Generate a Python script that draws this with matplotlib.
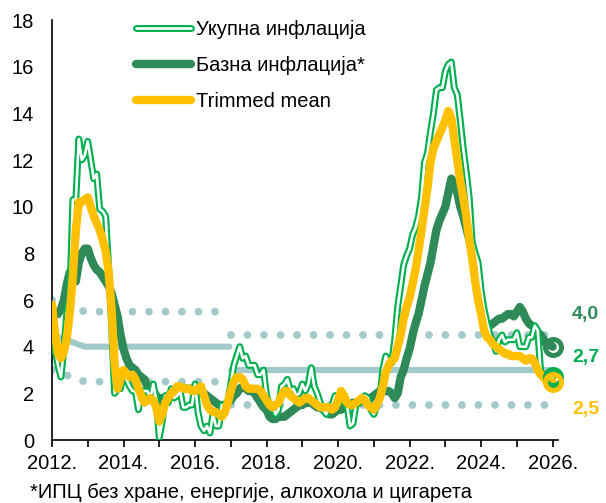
import numpy as np
import matplotlib
matplotlib.use("Agg")
import matplotlib.pyplot as plt
import matplotlib.patheffects as pe

plt.rcParams['font.family'] = ['Liberation Sans', 'DejaVu Sans']

# ---------------- data (monthly, Jan 2012 - Jan 2026) ----------------
start_year = 2012
total = [5.6, 3.9, 3.2, 2.7, 3.9, 5.5, 6.1, 10.3, 10.3, 12.9, 12.0, 12.2,
         12.8, 12.0, 11.2, 11.4, 9.9, 9.8, 9.6, 7.4, 4.9, 2.0, 2.2, 2.2,
         3.0, 2.6, 2.3, 2.1, 2.1, 1.3, 2.1, 2.1, 2.1, 1.8, 2.4, 1.7,
         0.1, 0.8, 1.9, 1.6, 2.2, 1.8, 1.9, 2.1, 1.4, 1.4, 1.5, 1.5,
         2.4, 1.2, 0.6, 0.4, 0.6, 0.3, 1.1, 0.6, 0.6, 1.5, 1.5, 1.6,
         2.4, 3.2, 3.6, 4.0, 3.5, 3.6, 3.2, 3.2, 3.2, 2.8, 2.8, 3.0,
         1.9, 1.5, 1.5, 1.1, 1.3, 2.3, 2.4, 2.6, 2.1, 2.2, 1.9, 2.0,
         2.4, 2.1, 2.4, 3.1, 2.3, 2.0, 1.6, 1.3, 1.1, 1.4, 1.5, 1.9,
         1.9, 1.8, 1.6, 1.5, 0.6, 0.7, 1.5, 1.6, 1.8, 1.9, 1.8, 1.3,
         1.1, 1.5, 1.8, 3.0, 3.6, 3.3, 3.3, 4.3, 5.7, 6.6, 7.5, 7.9,
         8.2, 8.8, 9.1, 9.6, 10.4, 11.9, 12.3, 13.2, 14.0, 15.0, 15.1, 15.1,
         15.8, 16.1, 16.2, 15.1, 14.8, 13.7, 12.5, 11.5, 10.4, 8.5, 8.0, 7.6,
         6.4, 5.6, 5.0, 4.5, 4.2, 3.8, 4.3, 4.5, 4.2, 4.3, 4.3, 4.3,
         4.6, 4.0, 4.0, 4.0, 4.4, 4.4, 4.9, 4.7, 2.9, 2.8, 2.8, 2.8,
         2.7]

core = [5.6, 5.4, 5.4, 5.6, 6.0, 6.7, 7.2, 6.9, 6.8, 7.6, 8.0, 8.2,
        8.2, 7.8, 7.5, 7.3, 7.2, 7.0, 6.8, 6.6, 6.3, 5.8, 5.3, 4.5,
        3.9, 3.5, 3.2, 3.1, 3.0, 2.8, 2.7, 2.6, 2.3, 2.2, 2.1, 1.9,
        1.6, 1.8, 1.7, 1.9, 2.0, 2.0, 2.0, 2.1, 2.2, 2.2, 2.2, 2.2,
        2.1, 2.0, 2.0, 2.0, 1.9, 1.8, 1.7, 1.6, 1.5, 1.5, 1.5, 1.6,
        1.7, 1.9, 2.0, 2.2, 2.3, 2.2, 2.1, 2.1, 2.0, 1.8, 1.6, 1.4,
        1.3, 1.0, 0.9, 0.9, 1.0, 1.0, 1.0, 1.1, 1.2, 1.3, 1.4, 1.5,
        1.5, 1.6, 1.6, 1.6, 1.5, 1.4, 1.4, 1.3, 1.2, 1.1, 1.1, 1.2,
        1.3, 1.3, 1.4, 1.5, 1.5, 1.6, 1.6, 1.6, 1.7, 1.7, 1.8, 1.8,
        1.9, 2.0, 2.1, 2.1, 2.1, 2.1, 2.0, 1.8, 2.0, 2.7, 3.0, 3.5,
        3.9, 4.5, 5.0, 5.4, 6.0, 6.6, 7.1, 7.6, 8.3, 9.0, 9.4, 9.7,
        10.0, 10.6, 11.2, 11.0, 10.6, 10.0, 9.6, 9.1, 8.6, 8.0, 7.6, 7.0,
        6.0, 5.2, 5.0, 4.9, 5.0, 5.1, 5.2, 5.2, 5.3, 5.4, 5.4, 5.3,
        5.5, 5.7, 5.5, 5.2, 5.0, 4.9, 4.8, 4.6, 4.5, 4.3, 4.1, 4.1,
        4.0]

trimmed = [5.8, 4.6, 3.7, 3.5, 3.8, 4.4, 5.5, 7.0, 9.0, 10.2, 10.2, 10.3,
           10.4, 10.0, 9.6, 9.3, 9.0, 8.6, 8.1, 7.2, 5.6, 3.3, 2.2, 2.6,
           3.0, 2.8, 2.7, 2.8, 2.6, 2.2, 1.9, 1.6, 1.7, 1.8, 1.7, 1.4,
           0.8, 1.1, 1.6, 1.8, 2.0, 2.1, 2.3, 2.3, 2.2, 2.2, 2.2, 2.1,
           2.1, 2.2, 2.3, 1.9, 1.5, 1.3, 1.2, 1.2, 1.1, 1.0, 1.2, 1.6,
           2.1, 2.5, 2.7, 2.7, 2.6, 2.3, 2.2, 2.2, 2.2, 2.2, 2.1, 1.9,
           1.7, 1.5, 1.4, 1.5, 1.6, 1.9, 2.1, 2.1, 1.9, 1.8, 1.7, 1.6,
           1.7, 1.8, 1.8, 1.7, 1.6, 1.5, 1.4, 1.4, 1.4, 1.4, 1.3, 1.4,
           1.7, 2.1, 1.9, 1.6, 1.5, 1.5, 1.6, 1.7, 1.8, 1.7, 1.5, 1.4,
           1.3, 1.5, 1.8, 2.3, 2.9, 3.2, 3.4, 3.5, 4.0, 4.5, 5.2, 5.7,
           6.1, 6.7, 7.3, 8.1, 9.0, 9.9, 10.8, 11.9, 12.5, 12.8, 13.1, 13.4,
           13.7, 14.1, 13.8, 12.9, 12.0, 11.1, 10.4, 9.6, 8.6, 7.8, 6.8, 6.0,
           5.4, 4.7, 4.4, 4.3, 4.1, 4.0, 3.9, 3.8, 3.7, 3.7, 3.6, 3.6,
           3.6, 3.6, 3.5, 3.4, 3.5, 3.5, 3.3, 3.0, 2.8, 2.7, 2.5, 2.5,
           2.5]

# inflation target paths (central value) and tolerance band
target1_dates = [2012.0, 2012.92, 2016.96]
target1_vals = [4.5, 4.0, 4.0]
target2_dates = [2017.0, 2025.92]
target2_vals = [3.0, 3.0]
tolerance = 1.5

labels = ['Укупна инфлација', 'Базна инфлација*', 'Trimmed mean']
end_labels = ['4,0', '2,7', '2,5']
year_ticks = list(range(2012, 2027))
footnote = '*ИПЦ без хране, енергије, алкохола и цигарета'

# ---------------- style ----------------
GREEN = '#00B050'
DARK = '#2E8B57'
YELLOW = '#FFC000'
TEAL = '#A3CACA'

dates = start_year + np.arange(len(total)) / 12.0

fig = plt.figure(figsize=(6.06, 5.03), dpi=100)
ax = fig.add_axes([0.0858, 0.1252, 0.835, 0.835])

# targets
dot_style = dict(color=TEAL, lw=5.6, linestyle=(0, (0.001, 2.12)),
                 dash_capstyle='round', zorder=1)
for d, v in ((target1_dates, target1_vals), (target2_dates, target2_vals)):
    v = np.array(v)
    ax.plot(d, v, color=TEAL, lw=4.4, solid_capstyle='round', zorder=1)
    ax.plot(d, v + tolerance, **dot_style)
    ax.plot(d, v - tolerance, **dot_style)

# series
l_core, = ax.plot(dates, core, color=DARK, lw=6.0, solid_capstyle='round',
                  solid_joinstyle='round', zorder=3, label=labels[1])
l_tot, = ax.plot(dates, total, color='white', lw=1.9, solid_capstyle='round',
                 solid_joinstyle='round', zorder=4, label=labels[0],
                 path_effects=[pe.Stroke(linewidth=5.0, foreground=GREEN),
                               pe.Normal()])
l_trm, = ax.plot(dates, trimmed, color=YELLOW, lw=6.0, solid_capstyle='round',
                 solid_joinstyle='round', zorder=5, label=labels[2])

# end markers and labels
ends = [(core, DARK, end_labels[0], 23), (total, GREEN, end_labels[1], 14),
        (trimmed, YELLOW, end_labels[2], -20)]
zo = {DARK: 6, GREEN: 6, YELLOW: 7}
for series, col, lab, dy in ends:
    ax.plot(dates[-1], series[-1], 'o', ms=11.5, mfc='none', mec=col,
            mew=3.6, zorder=zo[col], clip_on=False)
    ax.annotate(lab, (dates[-1], series[-1]), xytext=(14, dy),
                textcoords='offset points', ha='left', va='center',
                fontsize=14, fontweight='bold', color=col,
                annotation_clip=False)

ax.set_xlim(2012, 2026.15)
ax.set_ylim(0, 18)
ax.set_yticks(range(0, 19, 2))
ax.set_xticks(year_ticks)
ax.set_xticklabels([f'{y}.' if (y - 2012) % 2 == 0 else '' for y in year_ticks])
ax.tick_params(axis='y', length=0, pad=13, labelsize=14.5)
ax.tick_params(axis='x', length=5, width=1.2, pad=5, labelsize=14.5)
for s in ('top', 'right'):
    ax.spines[s].set_visible(False)
for s in ('left', 'bottom'):
    ax.spines[s].set_linewidth(1.2)

leg = ax.legend(handles=[l_tot, l_core, l_trm], loc='upper left',
                bbox_to_anchor=(0.15, 1.02), frameon=False, fontsize=14.5,
                handlelength=2.75, handletextpad=0.25, labelspacing=0.85,
                borderaxespad=0)

fig.text(30 / 606, 1 - 492 / 503, footnote, fontsize=14.5, ha='left',
         va='center')

fig.savefig('out.png', dpi=100)
